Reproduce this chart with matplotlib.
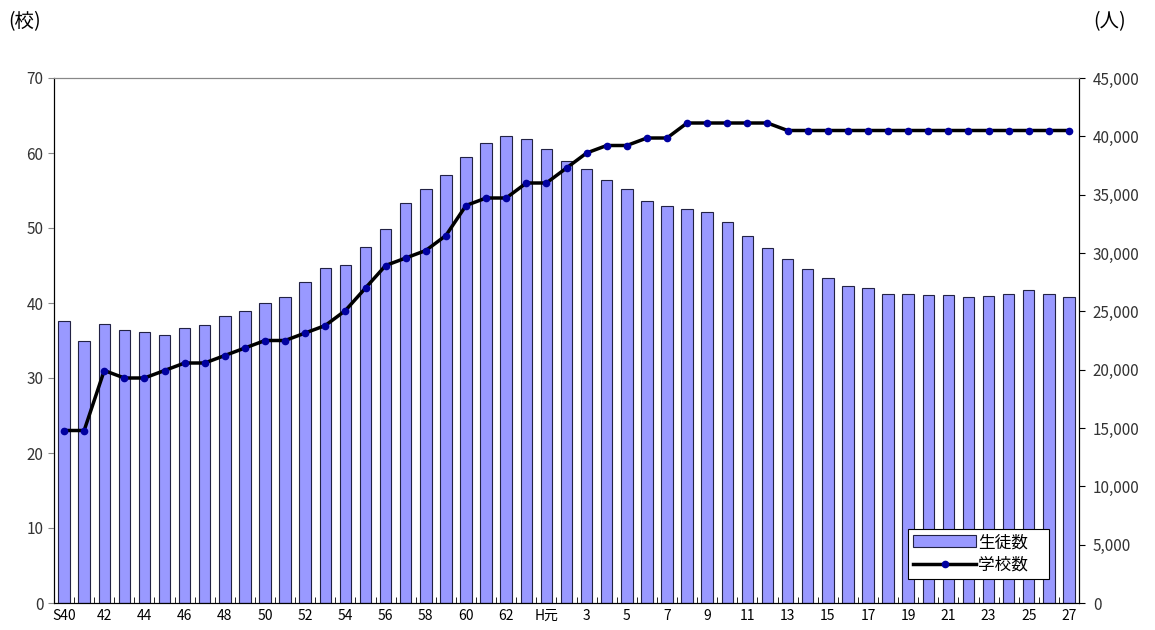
import matplotlib
matplotlib.use("Agg")
import matplotlib.pyplot as plt
from matplotlib.ticker import FuncFormatter, FixedLocator

plt.rcParams['font.family'] = ['Noto Sans CJK JP', 'DejaVu Sans']

categories = (["S40"] + [str(y) for y in range(41, 64)] + ["H元"] +
              [str(y) for y in range(2, 28)])

students = [24200, 22500, 23900, 23400, 23200, 23000, 23600, 23800, 24600, 25000,
            25700, 26200, 27500, 28700, 29000, 30500, 32100, 34300, 35500, 36700,
            38200, 39400, 40000, 39800, 38900, 37900, 37200, 36300, 35500, 34500,
            34000, 33800, 33500, 32700, 31500, 30400, 29500, 28600, 27900, 27200,
            27000, 26500, 26500, 26400, 26400, 26200, 26300, 26500, 26800, 26500,
            26200]

schools = [23, 23, 31, 30, 30, 31, 32, 32, 33, 34,
           35, 35, 36, 37, 39, 42, 45, 46, 47, 49,
           53, 54, 54, 56, 56, 58, 60, 61, 61, 62,
           62, 64, 64, 64, 64, 64, 63, 63, 63, 63,
           63, 63, 63, 63, 63, 63, 63, 63, 63, 63,
           63]

x = list(range(len(categories)))

fig = plt.figure(figsize=(11.55, 6.3), dpi=100)
ax = fig.add_axes([54/1155, 27/630, 1025/1155, 525/630])
ax2 = ax.twinx()

bars = ax2.bar(x, students, width=0.57, color='#9999FF', edgecolor='#222244',
               linewidth=0.8, label='生徒数')
line, = ax.plot(x, schools, color='black', linewidth=2.5, marker='o',
                markersize=4.5, markerfacecolor='#0000A0', markeredgecolor='#0000A0',
                label='学校数')

ax.set_zorder(ax2.get_zorder() + 1)
ax.patch.set_visible(False)

ax.set_xlim(-0.5, len(categories) - 0.5)
ax.set_ylim(0, 70)
ax2.set_ylim(0, 45000)
ax.set_yticks(range(0, 71, 10))
ax2.set_yticks(range(0, 45001, 5000))
ax2.yaxis.set_major_formatter(FuncFormatter(lambda v, p: f"{int(v):,}"))

ax.set_xticks(x[::2])
ax.set_xticklabels(categories[::2], fontsize=10)
ax.xaxis.set_minor_locator(FixedLocator([i + 0.5 for i in x[:-1]]))
ax.tick_params(axis='x', which='major', length=0, pad=4)
ax.tick_params(axis='x', which='minor', length=4, direction='in', color='black')
ax.tick_params(axis='y', labelsize=11, length=4, direction='out', color='#888888')
ax2.tick_params(axis='y', labelsize=11, length=4, direction='out', color='black', pad=6)

for a in (ax, ax2):
    a.spines['top'].set_color('#888888')
    a.spines['top'].set_linewidth(0.8)
    a.spines['left'].set_color('black')
    a.spines['right'].set_color('black')
    a.spines['bottom'].set_color('black')

for lbl in ax.get_yticklabels() + ax2.get_yticklabels():
    lbl.set_color('#333333')

fig.text(8/1155, 1 - 22/630, "(校)", fontsize=14, va='center', ha='left')
fig.text(1093/1155, 1 - 22/630, "(人)", fontsize=14, va='center', ha='left')

leg = ax.legend([bars, line], ['生徒数', '学校数'], loc='lower left',
                bbox_to_anchor=(0.825, 0.03, 0.154, 0.11), mode='expand',
                fancybox=False, framealpha=1, edgecolor='black', fontsize=12,
                handlelength=3.8, handletextpad=0.1, borderpad=0.3,
                labelspacing=0.35)
leg.get_frame().set_linewidth(0.8)

fig.savefig("out.png", dpi=100)
